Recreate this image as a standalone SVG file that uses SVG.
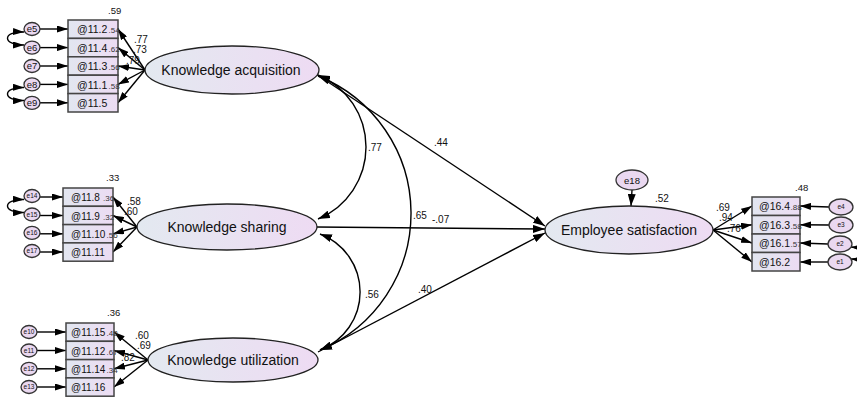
<svg xmlns="http://www.w3.org/2000/svg" width="857" height="399" viewBox="0 0 857 399">
<defs>
<linearGradient id="lg" x1="0" y1="0" x2="1" y2="0">
<stop offset="0" stop-color="#e3e9f0"/>
<stop offset="1" stop-color="#eedbf3"/>
</linearGradient>
<linearGradient id="bg" x1="0" y1="0" x2="1" y2="0">
<stop offset="0" stop-color="#e2e6f0"/>
<stop offset="1" stop-color="#ecdcf3"/>
</linearGradient>
<marker id="ah" viewBox="0 0 12 8" refX="12" refY="4" markerWidth="12" markerHeight="8" markerUnits="userSpaceOnUse" orient="auto-start-reverse">
<path d="M0,0 L12,4 L0,8 z" fill="#000"/>
</marker>
<marker id="as" viewBox="0 0 11 7" refX="11" refY="3.5" markerWidth="11" markerHeight="7" markerUnits="userSpaceOnUse" orient="auto-start-reverse">
<path d="M0,0 L11,3.5 L0,7 z" fill="#000"/>
</marker>
</defs>
<style>
.lat{fill:url(#lg);stroke:#222;stroke-width:1.3}
.box{fill:url(#bg);stroke:#444;stroke-width:1.5}
.err{fill:#ead8f0;stroke:#333;stroke-width:1.3}
.ln{fill:none;stroke:#000;stroke-width:1.4}
.a{marker-end:url(#ah)}
.b{marker-start:url(#ah);marker-end:url(#ah)}
.s{marker-end:url(#as)}
.sb{marker-start:url(#as);marker-end:url(#as)}
text{font-family:"Liberation Sans",Arial,sans-serif;fill:#111}
.lt{font-size:14px;text-anchor:middle}
.bt{font-size:10.5px}
.bs{font-size:10px}
.cf{font-size:10px}
.r2{font-size:9.5px}
.ri{font-size:8px;fill:#333}
.et{font-size:9.5px;text-anchor:middle}
.es{font-size:6.5px;text-anchor:middle}
</style>

<g id="connectors">
<line class="ln a" x1="316" y1="74" x2="545" y2="226"/>
<line class="ln a" x1="316" y1="227" x2="545" y2="229"/>
<line class="ln a" x1="318" y1="352" x2="545" y2="233"/>
<path class="ln b" d="M318,75 A78,78 0 0 1 318,219"/>
<path class="ln b" d="M318,76 A148,148 0 0 1 320,350"/>
<path class="ln b" d="M320,234 A62,62 0 0 1 320,350"/>
<line class="ln a" x1="632" y1="190" x2="631" y2="206"/>
<line class="ln s" x1="145" y1="70" x2="118" y2="29"/>
<line class="ln s" x1="145" y1="70" x2="118" y2="47.6"/>
<line class="ln s" x1="145" y1="70" x2="118" y2="66"/>
<line class="ln s" x1="145" y1="70" x2="118" y2="84.4"/>
<line class="ln s" x1="145" y1="70" x2="118" y2="102.8"/>
<line class="ln s" x1="137" y1="227" x2="113" y2="197"/>
<line class="ln s" x1="137" y1="227" x2="113" y2="215.5"/>
<line class="ln s" x1="137" y1="227" x2="113" y2="233.8"/>
<line class="ln s" x1="137" y1="227" x2="113" y2="252"/>
<line class="ln s" x1="148" y1="360" x2="114" y2="332"/>
<line class="ln s" x1="148" y1="360" x2="114" y2="350.5"/>
<line class="ln s" x1="148" y1="360" x2="114" y2="368.8"/>
<line class="ln s" x1="148" y1="360" x2="114" y2="387"/>
<line class="ln s" x1="713" y1="230" x2="752" y2="206"/>
<line class="ln s" x1="713" y1="230" x2="752" y2="224.8"/>
<line class="ln s" x1="713" y1="230" x2="752" y2="243"/>
<line class="ln s" x1="713" y1="230" x2="752" y2="262"/>
<line class="ln s" x1="40" y1="29" x2="68" y2="29"/>
<line class="ln s" x1="40" y1="47.6" x2="68" y2="47.6"/>
<line class="ln s" x1="40" y1="66" x2="68" y2="66"/>
<line class="ln s" x1="40" y1="84.4" x2="68" y2="84.4"/>
<line class="ln s" x1="40" y1="102.8" x2="68" y2="102.8"/>
<line class="ln s" x1="40" y1="197" x2="63" y2="197"/>
<line class="ln s" x1="40" y1="215.5" x2="63" y2="215.5"/>
<line class="ln s" x1="40" y1="233.8" x2="63" y2="233.8"/>
<line class="ln s" x1="40" y1="252" x2="63" y2="252"/>
<line class="ln s" x1="37" y1="332" x2="66" y2="332"/>
<line class="ln s" x1="37" y1="350.5" x2="66" y2="350.5"/>
<line class="ln s" x1="37" y1="368.8" x2="66" y2="368.8"/>
<line class="ln s" x1="37" y1="387" x2="66" y2="387"/>
<line class="ln s" x1="829" y1="207" x2="800" y2="206"/>
<line class="ln s" x1="829" y1="225" x2="800" y2="224.8"/>
<line class="ln s" x1="828" y1="244" x2="800" y2="243"/>
<line class="ln s" x1="828" y1="262" x2="800" y2="262"/>
<path class="ln sb" d="M24,32 C2,31 2,45 24,45"/>
<path class="ln sb" d="M24,87.5 C2,87 2,101 24,100.5"/>
<path class="ln sb" d="M24,199.5 C2,199 2,213 24,212.5"/>
<path class="ln sb" d="M851,247 C865,248 865,260 851,259"/>
</g>

<g id="KA">
<ellipse class="lat" cx="232" cy="70" rx="87" ry="24"/>
<text class="lt" x="231" y="75">Knowledge acquisition</text>
</g>
<g id="KS">
<ellipse class="lat" cx="227" cy="227" rx="90" ry="23"/>
<text class="lt" x="227" y="232">Knowledge sharing</text>
</g>
<g id="KU">
<ellipse class="lat" cx="233" cy="360" rx="85" ry="22"/>
<text class="lt" x="233" y="365">Knowledge utilization</text>
</g>
<g id="ES">
<ellipse class="lat" cx="629" cy="230" rx="84" ry="24"/>
<text class="lt" x="629" y="235">Employee satisfaction</text>
</g>
<g id="e18">
<ellipse class="err" cx="632" cy="180" rx="16" ry="10"/>
<text class="et" x="632" y="183.5">e18</text>
<text class="cf" x="655" y="202">.52</text>
</g>

<g id="KA-indicators">
<rect class="box" x="68" y="20" width="50" height="18.4"/>
<rect class="box" x="68" y="38.4" width="50" height="18.4"/>
<rect class="box" x="68" y="56.8" width="50" height="18.4"/>
<rect class="box" x="68" y="75.2" width="50" height="18.4"/>
<rect class="box" x="68" y="93.6" width="50" height="18.4"/>
<text class="bt" x="77" y="33">@11.2</text>
<text class="bt" x="77" y="51.5">@11.4</text>
<text class="bt" x="77" y="70">@11.3</text>
<text class="bt" x="77" y="88.5">@11.1</text>
<text class="bt" x="77" y="107">@11.5</text>
<text class="r2" x="108" y="14">.59</text>
<text class="ri" x="108.5" y="33">.54</text>
<text class="ri" x="108.5" y="51.5">.62</text>
<text class="ri" x="108.5" y="70">.56</text>
<text class="ri" x="108.5" y="88.5">.58</text>
<text class="cf" x="134" y="43">.77</text>
<text class="cf" x="133" y="53">.73</text>
<text class="cf" x="126" y="63.5">.79</text>
</g>
<g id="KA-errors">
<ellipse class="err" cx="32" cy="29" rx="8" ry="6.5"/><text class="et" x="32" y="32.3">e5</text>
<ellipse class="err" cx="32" cy="47.6" rx="8" ry="6.5"/><text class="et" x="32" y="50.9">e6</text>
<ellipse class="err" cx="32" cy="66" rx="8" ry="6.5"/><text class="et" x="32" y="69.3">e7</text>
<ellipse class="err" cx="32" cy="84.4" rx="8" ry="6.5"/><text class="et" x="32" y="87.7">e8</text>
<ellipse class="err" cx="32" cy="102.8" rx="8" ry="6.5"/><text class="et" x="32" y="106.1">e9</text>
</g>

<g id="KS-indicators">
<rect class="box" x="63" y="188" width="50" height="18.3"/>
<rect class="box" x="63" y="206.3" width="50" height="18.3"/>
<rect class="box" x="63" y="224.6" width="50" height="18.3"/>
<rect class="box" x="63" y="242.9" width="50" height="18.3"/>
<text class="bs" x="71" y="201">@11.8</text>
<text class="bs" x="71" y="219.5">@11.9</text>
<text class="bs" x="71" y="238">@11.10</text>
<text class="bs" x="71" y="256">@11.11</text>
<text class="r2" x="106" y="181">.33</text>
<text class="ri" x="103" y="201">.36</text>
<text class="ri" x="103" y="219.5">.32</text>
<text class="ri" x="106.5" y="238">.56</text>
<text class="cf" x="127" y="205">.58</text>
<text class="cf" x="124" y="214.5">.60</text>
</g>
<g id="KS-errors">
<ellipse class="err" cx="32" cy="196" rx="8" ry="6.5"/><text class="es" x="32" y="198.3">e14</text>
<ellipse class="err" cx="32" cy="214.5" rx="8" ry="6.5"/><text class="es" x="32" y="216.8">e15</text>
<ellipse class="err" cx="32" cy="232.8" rx="8" ry="6.5"/><text class="es" x="32" y="235.1">e16</text>
<ellipse class="err" cx="32" cy="251" rx="8" ry="6.5"/><text class="es" x="32" y="253.3">e17</text>
</g>

<g id="KU-indicators">
<rect class="box" x="66" y="323" width="48" height="18.3"/>
<rect class="box" x="66" y="341.3" width="48" height="18.3"/>
<rect class="box" x="66" y="359.6" width="48" height="18.3"/>
<rect class="box" x="66" y="377.9" width="48" height="18.3"/>
<text class="bs" x="71" y="336">@11.15</text>
<text class="bs" x="71" y="354.5">@11.12</text>
<text class="bs" x="71" y="373">@11.14</text>
<text class="bs" x="71" y="391">@11.16</text>
<text class="r2" x="107" y="316">.36</text>
<text class="ri" x="106.5" y="336">.48</text>
<text class="ri" x="106.5" y="354.5">.67</text>
<text class="ri" x="106.5" y="373">.34</text>
<text class="cf" x="135" y="339">.60</text>
<text class="cf" x="137" y="348.5">.69</text>
<text class="cf" x="121" y="361">.82</text>
</g>
<g id="KU-errors">
<ellipse class="err" cx="29" cy="332" rx="8" ry="6.5"/><text class="es" x="29" y="334.3">e10</text>
<ellipse class="err" cx="29" cy="350.5" rx="8" ry="6.5"/><text class="es" x="29" y="352.8">e11</text>
<ellipse class="err" cx="29" cy="368.8" rx="8" ry="6.5"/><text class="es" x="29" y="371.1">e12</text>
<ellipse class="err" cx="29" cy="387" rx="8" ry="6.5"/><text class="es" x="29" y="389.3">e13</text>
</g>

<g id="ES-indicators">
<rect class="box" x="752" y="197" width="48" height="18.5"/>
<rect class="box" x="752" y="215.5" width="48" height="18.5"/>
<rect class="box" x="752" y="234" width="48" height="18.5"/>
<rect class="box" x="752" y="252.5" width="48" height="18.5"/>
<text class="bt" x="759" y="210">@16.4</text>
<text class="bt" x="759" y="228.5">@16.3</text>
<text class="bt" x="759" y="247">@16.1</text>
<text class="bt" x="759" y="265.5">@16.2</text>
<text class="r2" x="795" y="191">.48</text>
<text class="ri" x="790.5" y="210">.88</text>
<text class="ri" x="790.5" y="228.5">.58</text>
<text class="ri" x="790.5" y="247">.57</text>
<text class="cf" x="716" y="211">.69</text>
<text class="cf" x="719" y="221">.94</text>
<text class="cf" x="727" y="231.5">.76</text>
</g>
<g id="ES-errors">
<ellipse class="err" cx="841" cy="207" rx="12" ry="8"/><text class="es" x="841" y="209.3">e4</text>
<ellipse class="err" cx="841" cy="225" rx="12" ry="8"/><text class="es" x="841" y="227.3">e3</text>
<ellipse class="err" cx="840" cy="244" rx="12" ry="8"/><text class="es" x="840" y="246.3">e2</text>
<ellipse class="err" cx="840" cy="262" rx="12" ry="8"/><text class="es" x="840" y="264.3">e1</text>
</g>

<g id="labels">
<text class="cf" x="368" y="151">.77</text>
<text class="cf" x="413" y="219">.65</text>
<text class="cf" x="432" y="223">-.07</text>
<text class="cf" x="434" y="146">.44</text>
<text class="cf" x="365" y="298">.56</text>
<text class="cf" x="418" y="293">.40</text>
</g>
</svg>
